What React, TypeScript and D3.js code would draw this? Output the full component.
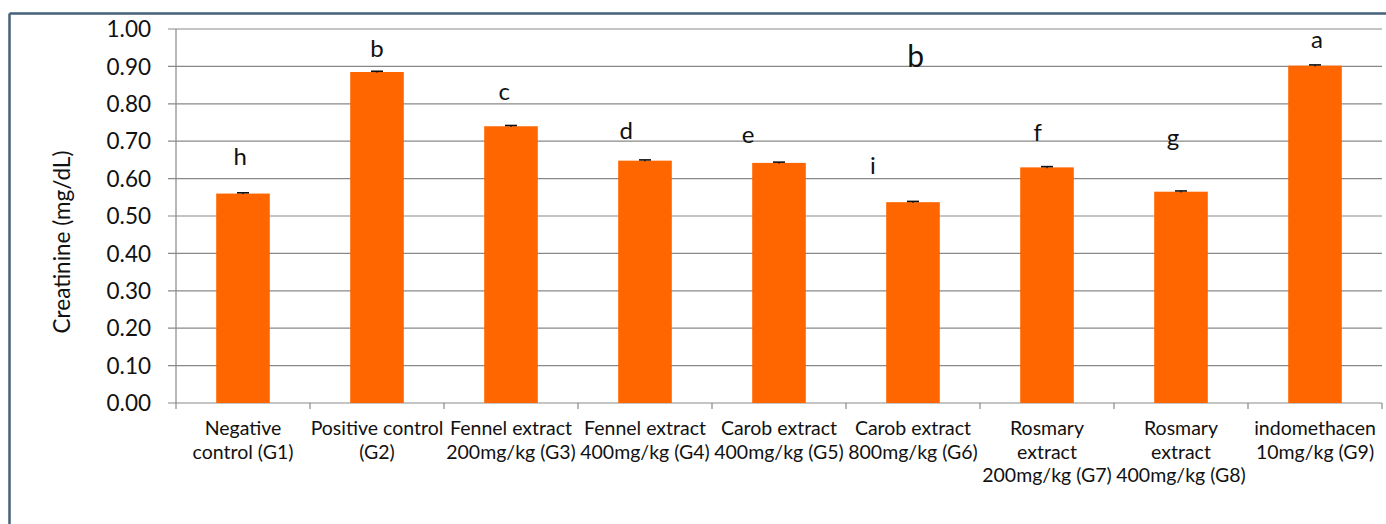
import React from "react";
import * as d3 from "d3";

const categories = ["G1", "G2", "G3", "G4", "G5", "G6", "G7", "G8", "G9"];
const categoryLabels: string[][] = [
  ["Negative", "control (G1)"],
  ["Positive control", "(G2)"],
  ["Fennel extract", "200mg/kg (G3)"],
  ["Fennel extract", "400mg/kg (G4)"],
  ["Carob extract", "400mg/kg (G5)"],
  ["Carob extract", "800mg/kg (G6)"],
  ["Rosmary", "extract", "200mg/kg (G7)"],
  ["Rosmary", "extract", "400mg/kg (G8)"],
  ["indomethacen", "10mg/kg (G9)"],
];
const values = [0.56, 0.885, 0.74, 0.648, 0.642, 0.537, 0.63, 0.565, 0.902];
const errors = [0.002, 0.002, 0.002, 0.002, 0.002, 0.002, 0.002, 0.002, 0.002];
const letters = ["h", "b", "c", "d", "e", "i", "f", "g", "a"];
const letterValues = [0.636, 0.926, 0.81, 0.706, 0.696, 0.612, 0.701, 0.686, 0.948];
const letterShifts = [-0.02, 0, -0.05, -0.14, -0.23, -0.3, -0.07, -0.06, 0.015];
const extraLetter = { text: "b", category: "G6", value: 0.899, shift: 0.02 };
const yTicks = [0, 0.1, 0.2, 0.3, 0.4, 0.5, 0.6, 0.7, 0.8, 0.9, 1.0];
const yLabel = "Creatinine (mg/dL)";

const W = 1386;
const H = 524;
const FONT = "Lato, 'Open Sans', sans-serif";

export default function App() {
  const left = 176;
  const right = 1382;
  const top = 29;
  const bottom = 403;

  const x = d3
    .scaleBand<string>()
    .domain(categories)
    .range([left, right])
    .paddingInner(0.6)
    .paddingOuter(0.3);
  const y = d3.scaleLinear().domain([0, 1]).range([bottom, top]);
  const step = x.step();
  const bw = x.bandwidth();
  const center = (c: string) => (x(c) as number) + bw / 2;
  const grid = "#898989";

  const boundaries = d3.range(categories.length + 1).map((i) => left + i * step);

  return (
    <svg
      width={W}
      height={H}
      style={{ position: "absolute", left: 0, top: 0, background: "#fff" }}
      fontFamily={FONT}
    >
      <rect x={0} y={0} width={W} height={H} fill="#fff" />
      {/* border */}
      <line x1={9.5} x2={9.5} y1={13.5} y2={H} stroke="#46607a" strokeWidth={2.5} />
      <line x1={9.5} x2={W} y1={13.5} y2={13.5} stroke="#46607a" strokeWidth={2.5} />

      {/* gridlines */}
      {yTicks.map((t) => (
        <g key={t}>
          <line x1={left - 8} x2={right} y1={y(t)} y2={y(t)} stroke={grid} strokeWidth={1.2} />
          <text
            x={151}
            y={y(t)}
            dy="0.36em"
            textAnchor="end"
            fontSize={22.5}
            fill="#111"
          >
            {d3.format(".2f")(t)}
          </text>
        </g>
      ))}
      {/* y axis */}
      <line x1={left} x2={left} y1={top} y2={bottom} stroke={grid} strokeWidth={1.2} />
      {/* x ticks */}
      {boundaries.map((b, i) => (
        <line key={i} x1={b} x2={b} y1={bottom} y2={bottom + 6} stroke={grid} strokeWidth={1.2} />
      ))}

      {/* bars */}
      {categories.map((c, i) => (
        <g key={c}>
          <rect
            x={x(c)}
            y={y(values[i])}
            width={bw}
            height={bottom - y(values[i])}
            fill="#ff6600"
          />
          <line
            x1={center(c) - 6}
            x2={center(c) + 6}
            y1={y(values[i] + errors[i])}
            y2={y(values[i] + errors[i])}
            stroke="#111"
            strokeWidth={1.6}
          />
          <line
            x1={center(c)}
            x2={center(c)}
            y1={y(values[i] + errors[i])}
            y2={y(values[i] - errors[i])}
            stroke="#111"
            strokeWidth={1.2}
          />
          <text
            x={center(c) + letterShifts[i] * step}
            y={y(letterValues[i])}
            textAnchor="middle"
            fontSize={24}
            fill="#111"
          >
            {letters[i]}
          </text>
          {categoryLabels[i].map((line, j) => (
            <text
              key={j}
              x={center(c)}
              y={435 + j * 23.5}
              textAnchor="middle"
              fontSize={19.5}
              fill="#111"
            >
              {line}
            </text>
          ))}
        </g>
      ))}

      <text
        x={center(extraLetter.category) + extraLetter.shift * step}
        y={y(extraLetter.value)}
        textAnchor="middle"
        fontSize={30}
        fill="#111"
      >
        {extraLetter.text}
      </text>

      <text
        transform={`translate(70, 242) rotate(-90)`}
        textAnchor="middle"
        fontSize={22.5}
        fill="#111"
      >
        {yLabel}
      </text>
    </svg>
  );
}
